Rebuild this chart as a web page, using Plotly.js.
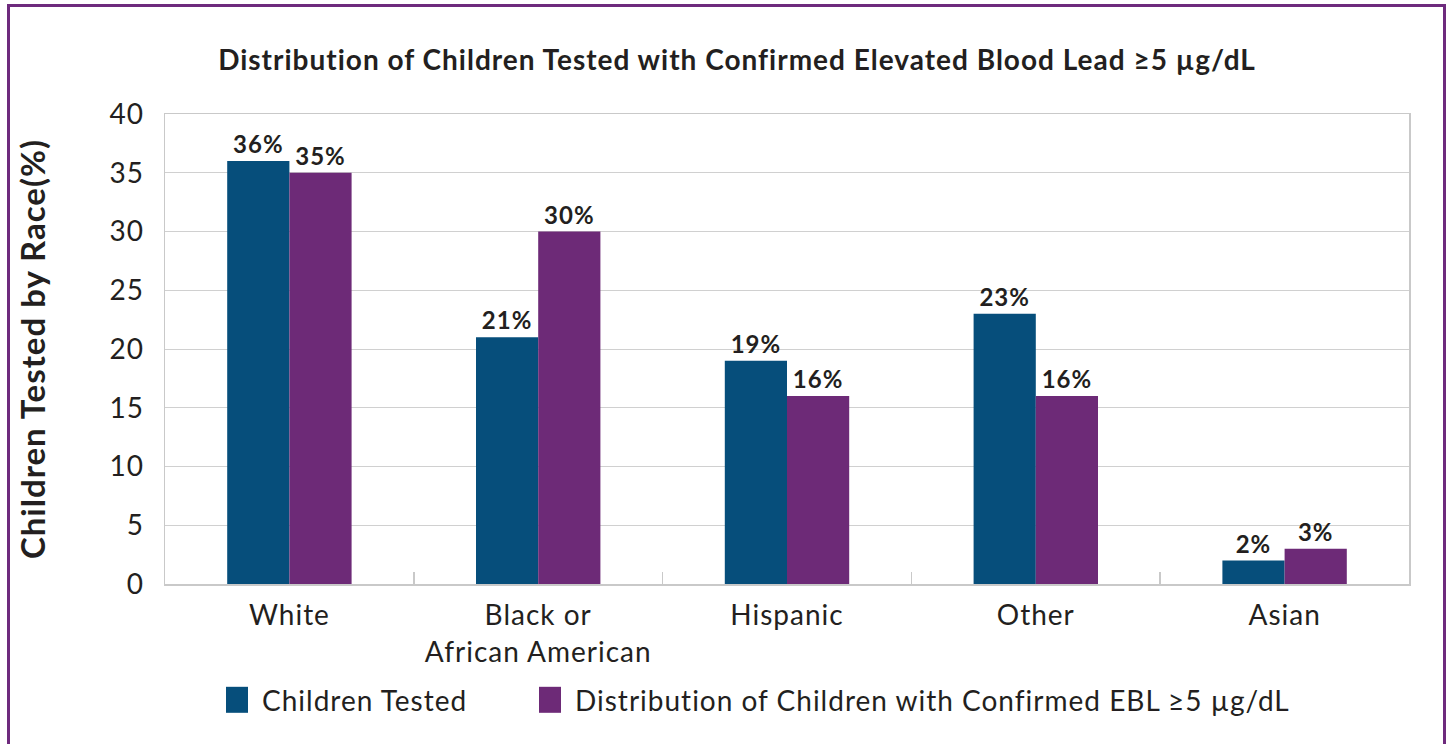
<!DOCTYPE html>
<html>
<head>
<meta charset="utf-8">
<script src="https://cdn.plot.ly/plotly-3.0.1.min.js"></script>
<style>
  html, body { margin: 0; padding: 0; background: #fff; }
  #wrap { position: relative; width: 1448px; height: 744px; overflow: hidden; }
  #chart { position: absolute; left: 0; top: 0; width: 1448px; height: 744px; }
  #frame { position: absolute; left: 7px; top: 4px; width: 1439px; height: 760px;
           border: 3px solid #6E2A7D; box-sizing: border-box; pointer-events: none; }
  svg text { letter-spacing: 1px; }
</style>
</head>
<body>
<div id="wrap">
  <div id="chart"></div>
  <div id="frame"></div>
</div>
<script>
const categories = ["White", "Black or<br>African American", "Hispanic", "Other", "Asian"];
const childrenTested = [36, 21, 19, 23, 2];
const confirmedEBL = [35, 30, 16, 16, 3];
const seriesNames = ["Children Tested", "Distribution of Children with Confirmed EBL \u22655 \u00b5g/dL"];
const yTicks = [0, 5, 10, 15, 20, 25, 30, 35, 40];

const FONT = "Lato, 'Noto Sans', sans-serif";
const TEXTC = "#231f20";

function pct(arr) { return arr.map(v => v + "%"); }

const traces = [
  {
    type: "bar", name: seriesNames[0], x: categories, y: childrenTested,
    marker: { color: "#064E7B" },
    text: pct(childrenTested), textposition: "outside", cliponaxis: false,
    textfont: { family: FONT, size: 24, color: TEXTC, weight: 700 },
    hoverinfo: "x+y", legend: "legend"
  },
  {
    type: "bar", name: seriesNames[1], x: categories, y: confirmedEBL,
    marker: { color: "#6D2A77" },
    text: pct(confirmedEBL), textposition: "outside", cliponaxis: false,
    textfont: { family: FONT, size: 24, color: TEXTC, weight: 700 },
    hoverinfo: "x+y", legend: "legend2"
  }
];

const legendCommon = {
  orientation: "h", xref: "container", yref: "container",
  xanchor: "left", yanchor: "middle", y: 0.059,
  font: { family: FONT, size: 28, color: TEXTC },
  itemwidth: 30, borderwidth: 0, bgcolor: "rgba(0,0,0,0)"
};

const layout = {
  width: 1448, height: 744,
  paper_bgcolor: "#fff", plot_bgcolor: "#fff",
  margin: { l: 165, r: 39, t: 114, b: 160 },
  font: { family: FONT, color: TEXTC },
  title: {
    text: "Distribution of Children Tested with Confirmed Elevated Blood Lead \u22655 \u00b5g/dL",
    font: { family: FONT, size: 28, color: TEXTC, weight: 700 },
    x: 0.509, xanchor: "center", xref: "container",
    y: 0.919, yanchor: "middle", yref: "container"
  },
  barmode: "group", bargap: 0.5, bargroupgap: 0,
  xaxis: {
    type: "category",
    tickfont: { family: FONT, size: 28, color: TEXTC },
    ticklabelstandoff: 6,
    showline: true, linecolor: "#c9c9c9", linewidth: 1.5, mirror: true,
    ticks: "inside", tickson: "boundaries", ticklen: 12, tickcolor: "#c9c9c9", tickwidth: 1.5,
    showgrid: false, fixedrange: true
  },
  yaxis: {
    range: [0, 40], tickvals: yTicks,
    tickfont: { family: FONT, size: 28, color: TEXTC },
    ticklabelstandoff: 14,
    showgrid: true, gridcolor: "#d0d0d0", gridwidth: 1,
    showline: true, linecolor: "#c9c9c9", linewidth: 1.5, mirror: true,
    ticks: "", zeroline: false,
    title: { text: "Children Tested by Race(%)", font: { family: FONT, size: 33, color: TEXTC, weight: 700 }, standoff: 54 },
    fixedrange: true
  },
  showlegend: true,
  legend: Object.assign({}, legendCommon, { x: 222 / 1448 }),
  legend2: Object.assign({}, legendCommon, { x: 535 / 1448 })
};

Plotly.newPlot("chart", traces, layout, { displayModeBar: false, staticPlot: true }).then(function () {
  document.querySelectorAll("#chart .legendpoints path").forEach(function (p) {
    p.setAttribute("d", "M6,13H-16V-13H6Z");
  });
});
</script>
</body>
</html>
